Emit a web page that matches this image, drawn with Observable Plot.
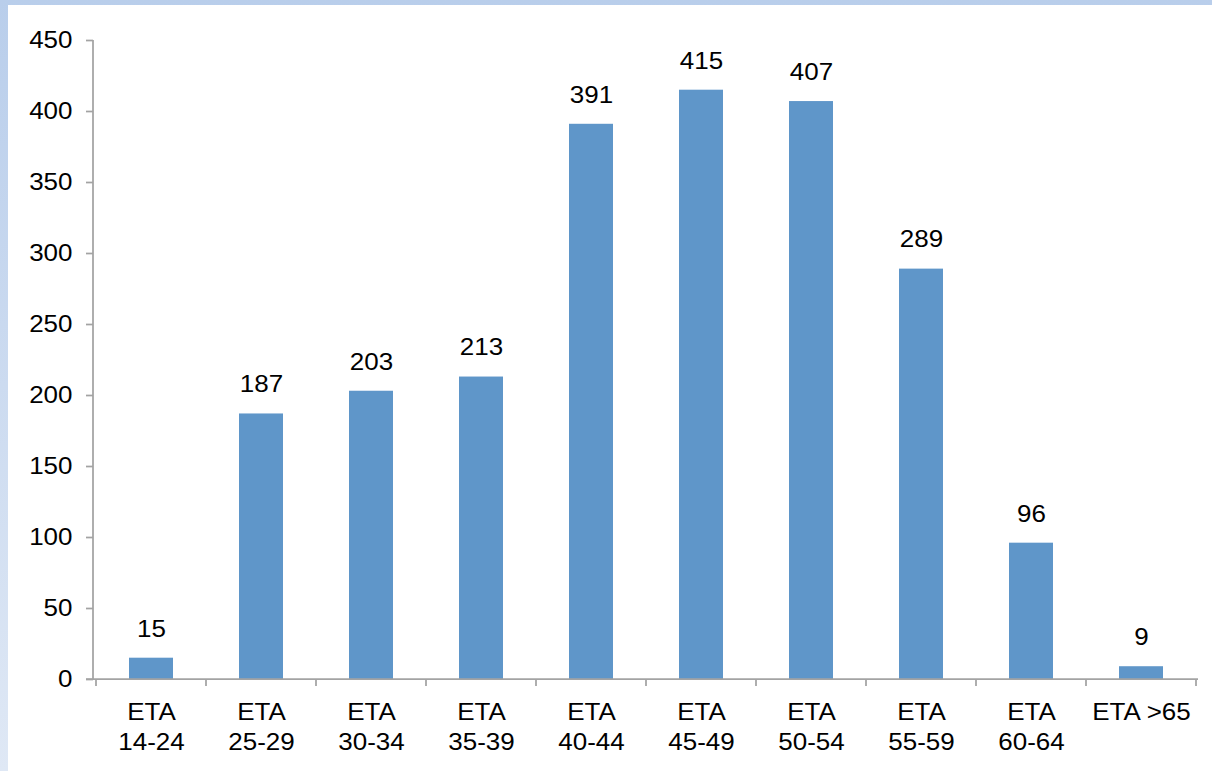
<!DOCTYPE html>
<html><head><meta charset="utf-8">
<script src="https://cdn.jsdelivr.net/npm/d3@7"></script>
<script src="https://cdn.jsdelivr.net/npm/@observablehq/plot@0.6"></script>
<style>
html,body{margin:0;padding:0;}
body{width:1212px;height:771px;background:linear-gradient(to bottom,#b9ceeb,#dfe8f5);position:relative;overflow:hidden;}
#chart{position:absolute;left:8px;top:5px;width:1204px;height:766px;background:#fff;}
</style></head><body><div id="chart"></div>
<script>
const categories = ["ETA\n14-24","ETA\n25-29","ETA\n30-34","ETA\n35-39","ETA\n40-44","ETA\n45-49","ETA\n50-54","ETA\n55-59","ETA\n60-64","ETA >65"];
const values = [15,187,203,213,391,415,407,289,96,9];
const yTicks = [0,50,100,150,200,250,300,350,400,450];

const barColor = "#5f96c9";
const axisColor = "#a3a3a3";
const data = categories.map((c, i) => ({cat: c, value: values[i]}));

function axisLines(index, scales, vals, dims) {
  const x = scales.x, y = scales.y;
  const g = d3.create("svg:g").attr("stroke", axisColor).attr("fill", "none").attr("stroke-width", 1.75);
  const left = dims.marginLeft, right = dims.width - dims.marginRight;
  const y0 = y(0), yTop = y(yTicks[yTicks.length - 1]);
  g.append("line").attr("x1", left).attr("x2", left).attr("y1", yTop).attr("y2", y0);
  g.append("line").attr("x1", left - 7).attr("x2", right).attr("y1", y0).attr("y2", y0);
  const off = (x.step() - x.bandwidth()) / 2;
  const dom = x.domain();
  const bounds = dom.map(c => x(c) - off).concat([x(dom[dom.length - 1]) + x.bandwidth() + off]);
  for (const b of bounds) {
    g.append("line").attr("x1", b).attr("x2", b).attr("y1", y0).attr("y2", y0 + 7);
  }
  return g.node();
}

const chart = Plot.plot({
  width: 1204,
  height: 766,
  marginLeft: 85,
  marginRight: 14,
  marginTop: 35,
  marginBottom: 92,
  style: {fontFamily: "'Liberation Sans', Arial, sans-serif", fontSize: "23px", background: "white", color: "black"},
  x: {domain: categories, paddingInner: 0.6, paddingOuter: 0.3, align: 0.5, label: null},
  y: {domain: [0, 450], label: null},
  marks: [
    Plot.barY(data, {x: "cat", y: "value", fill: barColor}),
    Plot.text(data, {x: "cat", y: "value", text: d => String(d.value), dy: -29, fontSize: 23, fill: "black"}),
    Plot.axisY(yTicks, {tickSize: 7, tickPadding: 14, stroke: axisColor, strokeWidth: 1.75, fill: "black", fontSize: 23, label: null}),
    Plot.axisX({tickSize: 0, tickPadding: 19, fontSize: 23, lineHeight: 1.3, fill: "black", label: null}),
    axisLines
  ]
});
// the reference's lettering is slightly wider than Arial: stretch each text horizontally about its anchor
chart.querySelectorAll("text").forEach(t => {
  const tr = t.getAttribute("transform") || "";
  t.setAttribute("transform", (tr + " scale(1.13,1)").trim());
});
document.getElementById("chart").appendChild(chart);
</script>
</body></html>
